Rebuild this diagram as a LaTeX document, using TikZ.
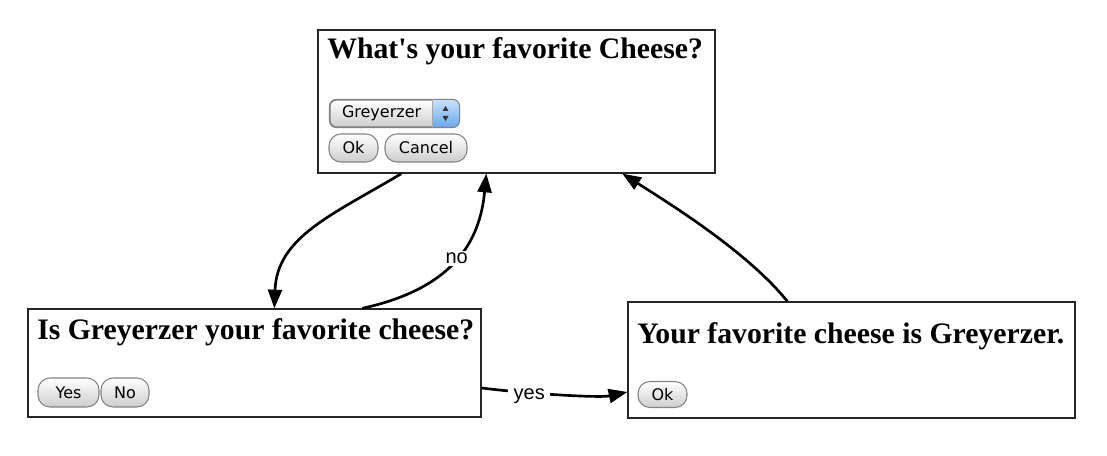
\documentclass[tikz,border=0pt]{standalone}
\usepackage{fontspec}
\setmainfont{Liberation Serif}
\newfontfamily\titlefont{Liberation Serif}
\newfontfamily\btnfont{DejaVu Sans}
\newfontfamily\labfont{Liberation Sans}
\usetikzlibrary{arrows.meta,calc}
\definecolor{aquaT}{RGB}{200,226,252}
\definecolor{aquaB}{RGB}{105,168,236}
\definecolor{btnB}{RGB}{205,205,205}
\definecolor{btnD}{RGB}{130,130,130}
\begin{document}
\begin{tikzpicture}[x=0.75pt,y=-0.75pt,
  panel/.style={draw=black!85, line width=1pt, fill=white, inner sep=0pt},
  title/.style={anchor=base west, inner sep=0pt, font=\titlefont\fontsize{22.3}{26}\selectfont\bfseries},
  btn/.style={draw=btnD, line width=0.8pt, rounded corners=9pt, top color=white, bottom color=btnB,
    inner sep=0pt, minimum height=21pt, font=\btnfont\fontsize{12}{14}\selectfont, text=black},
  ddbox/.style={draw=btnD, line width=0.8pt, rounded corners=5pt, top color=white, bottom color=btnB,
    inner ysep=0pt, inner xsep=9pt, text width=78.75pt, align=left, minimum height=20.25pt,
    font=\btnfont\fontsize{12}{14}\selectfont},
  conn/.style={line width=2pt, -{Triangle[length=14pt,width=10.5pt]}},
  lab/.style={fill=white, inner xsep=4pt, inner ysep=1.5pt, font=\labfont\fontsize{15}{17}\selectfont}]
\useasboundingbox (0,0) rectangle (1107,456);

% panels
\node[panel, minimum width=297.75pt, minimum height=107.25pt] (top) at (516.5,101.5) {};
\node[panel, minimum width=339.75pt, minimum height=81pt] (left) at (254.5,363) {};
\node[panel, minimum width=335.25pt, minimum height=87pt] (right) at (851.5,360) {};

% titles
\node[title] (t1) at (327,59) {What's your favorite Cheese?};
\node[title] (t2) at (37,339) {Is Greyerzer your favorite cheese?};
\node[title] (t3) at (637,343) {Your favorite cheese is Greyerzer.};

% dropdown
\node[ddbox] (dd) at (394.5,113.5) {Greyerzer};
\begin{scope}
  \clip[rounded corners=5pt] (dd.south west) rectangle (dd.north east);
  \shade[top color=aquaT, bottom color=aquaB] ([xshift=-20.25pt]dd.north east) rectangle (dd.south east);
\end{scope}
\draw[btnD, line width=0.8pt, rounded corners=5pt] (dd.south west) rectangle (dd.north east);
\draw[btnD!70, line width=0.5pt] ([xshift=-20.25pt]dd.north east) -- ([xshift=-20.25pt]dd.south east);
\fill[black!80] (442.5,111) -- (448.5,111) -- (445.5,106) -- cycle;
\fill[black!80] (442.5,116) -- (448.5,116) -- (445.5,121) -- cycle;

% buttons
\node[btn, minimum width=36.75pt] (ok1) at (353.5,148) {Ok};
\node[btn, minimum width=61.5pt] (cancel) at (426,148) {Cancel};
\node[btn, minimum width=45.75pt, minimum height=21.75pt] (yes) at (68.5,392.5) {Yes};
\node[btn, minimum width=36pt, minimum height=21.75pt] (no) at (125,392.5) {No};
\node[btn, minimum width=36.75pt, minimum height=19.5pt] (ok2) at (662.5,394.5) {Ok};

% connectors
\draw[conn] ([xshift=63pt]top.south west) .. controls (332,215) and (277,237) .. ([xshift=185.25pt]left.north west);
\draw[conn] ([xshift=251.25pt]left.north west) .. controls (455,288) and (480,240) .. node[lab, pos=0.5] (nol) {no} ([xshift=126.75pt]top.south west);
\draw[conn] ([xshift=120pt]right.north west) .. controls (750,255) and (680,210) .. ([xshift=228.75pt]top.south west);
\draw[conn] ([yshift=-18.75pt]left.east) .. controls (530,394) and (600,398) .. node[lab, pos=0.3, yshift=-3pt] (yesl) {yes} ([yshift=-24pt]right.west);
\end{tikzpicture}
\end{document}
